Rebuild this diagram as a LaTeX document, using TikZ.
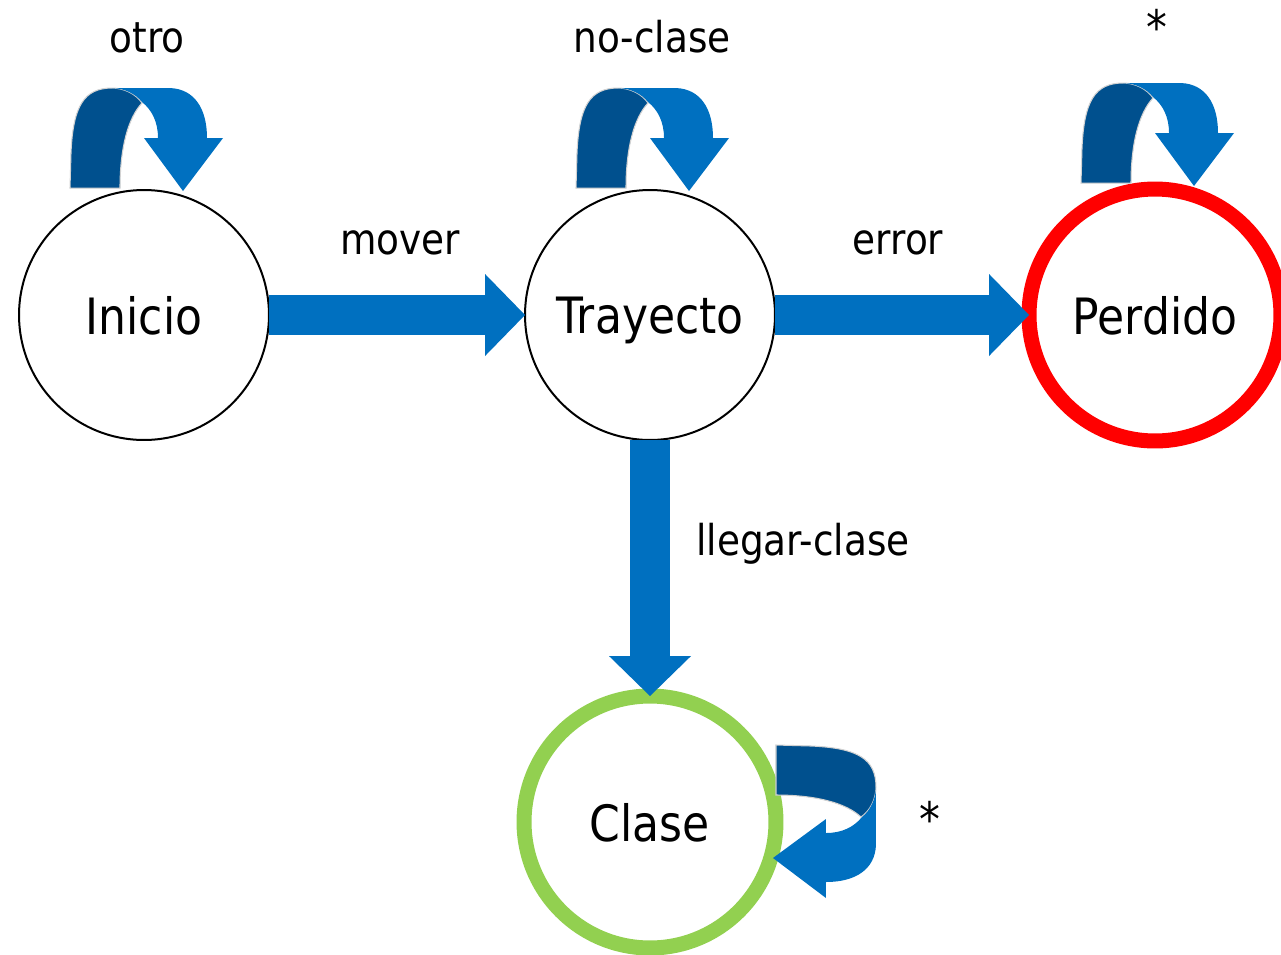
\documentclass[tikz,border=0pt]{standalone}
\usepackage{fontspec}
\setmainfont{DejaVu Sans}[FakeStretch=0.88]
\usetikzlibrary{arrows.meta,calc}

\definecolor{flowblue}{RGB}{0,112,192}
\definecolor{flowdark}{RGB}{0,80,142}
\definecolor{lostred}{RGB}{255,0,0}
\definecolor{goalgreen}{RGB}{146,208,80}

% curved self-loop arrow: dark back leg and light front band with head
\newcommand\selfloop{%
  \fill[flowdark, draw=gray!35, line width=0.6pt]
    (-74,0) -- (-73,-35) .. controls (-71,-82) and (-60,-100) .. (-32,-100)
    .. controls (-20,-100) and (-8,-94) .. (-2,-85)
    .. controls (-16,-70) and (-24,-40) .. (-24,0) -- cycle;
  \fill[flowblue]
    (-32,-100) -- (26,-100) .. controls (50,-99) and (63,-80) .. (63,-50)
    -- (79,-50) -- (39,3) -- (0,-50) -- (14,-50)
    .. controls (14,-66) and (8,-78) .. (-2,-86)
    .. controls (-8,-94) and (-20,-100) .. (-32,-100) -- cycle;
}

\begin{document}
\begin{tikzpicture}[x=0.02cm, y=-0.02cm,
    state/.style={circle, draw=black, line width=0.04cm, fill=white,
      minimum size=5cm, inner sep=0pt, outer sep=0pt, text depth=0pt,
      font=\fontsize{28.5}{34}\selectfont},
    ring/.style={state, line width=0.3cm, minimum size=5.04cm},
    lbl/.style={font=\fontsize{24.2}{29}\selectfont, inner sep=0pt, anchor=base},
    flow/.style={flowblue, line width=0.8cm, line cap=butt,
      -{Triangle[length=0.8cm, width=1.64cm, line width=0pt]}}]
  \useasboundingbox (0,0) rectangle (1281,954);

  % states
  \node[state] (ini) at (144,315) {Inicio};
  \node[state] (tra) at (650,315) {Trayecto};
  \node[ring, draw=lostred] (per) at (1155,315) {Perdido};
  \node[ring, draw=goalgreen] (cla) at (650,822) {Clase};

  % transitions
  \draw[flow] (ini.east) -- (tra.west);
  \draw[flow] (tra.east) -- (per.west);
  \draw[flow] (tra.south) -- (cla.north);

  % self loops
  \begin{scope}[shift={($(ini.north)+(0,-2)$)}] \selfloop \end{scope}
  \begin{scope}[shift={($(tra.north)+(0,-2)$)}] \selfloop \end{scope}
  \begin{scope}[shift={($(per.north)+(0,-6)$)}] \selfloop \end{scope}
  \begin{scope}[shift={($(cla.east)+(0,-3)$)}, rotate=-90] \selfloop \end{scope}

  % transition labels
  \node[lbl] (l-otro) at (147,52) {otro};
  \node[lbl] (l-mover) at (400,254) {mover};
  \node[lbl] (l-nocl) at (652,52) {no-clase};
  \node[lbl] (l-error) at (898,254) {error};
  \node[lbl] (l-lleg) at (803,555) {llegar-clase};
  \node[lbl, font=\fontsize{27}{32}\selectfont] (l-starp) at (1157,44) {*};
  \node[lbl, font=\fontsize{27}{32}\selectfont] (l-starc) at (930,836) {*};
\end{tikzpicture}
\end{document}
